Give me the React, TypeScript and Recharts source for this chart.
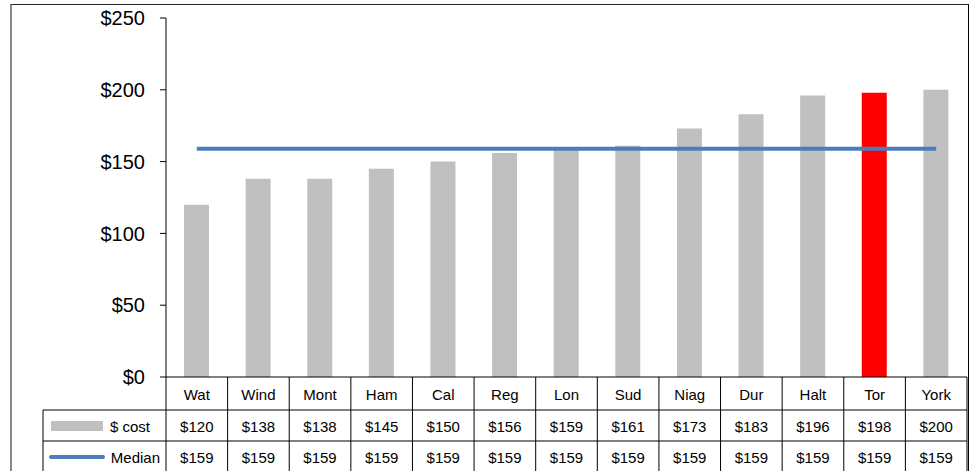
import { ComposedChart, Bar, Line, XAxis, YAxis, Cell } from 'recharts';

const categories = ['Wat', 'Wind', 'Mont', 'Ham', 'Cal', 'Reg', 'Lon', 'Sud', 'Niag', 'Dur', 'Halt', 'Tor', 'York'];
const costValues = [120, 138, 138, 145, 150, 156, 159, 161, 173, 183, 196, 198, 200];
const medianValues = [159, 159, 159, 159, 159, 159, 159, 159, 159, 159, 159, 159, 159];
const highlight = 'Tor';
const yTicks = [0, 50, 100, 150, 200, 250];

const data = categories.map((name, i) => ({ name, cost: costValues[i], median: medianValues[i] }));

const FONT = 'Arial, "Liberation Sans", sans-serif';
const BAR_GRAY = '#C0C0C0';
const MEDIAN_BLUE = '#4A7EBB';

function TableTick(props: any) {
  const { x, y, payload, width } = props;
  const band = (width ?? 801) / categories.length;
  const i = payload.index;
  const left = x - band / 2;
  const right = x + band / 2;
  const r1 = y + 33;
  const r2 = y + 64;
  const r3 = y + 94;
  return (
    <g>
      {i === 0 && (
        <g>
          <line x1={left} y1={y} x2={left} y2={r3} stroke="#000" />
          <line x1={left - 123} y1={r1} x2={left} y2={r1} stroke="#000" />
          <line x1={left - 123} y1={r2} x2={left} y2={r2} stroke="#000" />
          <line x1={left - 123} y1={r1} x2={left - 123} y2={r3} stroke="#000" />
          <rect x={left - 115} y={r1 + 11} width={52} height={10} fill={BAR_GRAY} />
          <text x={left - 16} y={r1 + 16} textAnchor="end" dominantBaseline="central" fontSize={15} fontFamily={FONT} fill="#000">
            $ cost
          </text>
          <line x1={left - 115} y1={r2 + 16} x2={left - 63} y2={r2 + 16} stroke={MEDIAN_BLUE} strokeWidth={4} strokeLinecap="round" />
          <text x={left - 6} y={r2 + 16} textAnchor="end" dominantBaseline="central" fontSize={15} fontFamily={FONT} fill="#000">
            Median
          </text>
        </g>
      )}
      <line x1={right} y1={y} x2={right} y2={r3} stroke="#000" />
      <line x1={left} y1={r1} x2={right} y2={r1} stroke="#000" />
      <line x1={left} y1={r2} x2={right} y2={r2} stroke="#000" />
      <text x={x} y={y + 17} textAnchor="middle" dominantBaseline="central" fontSize={15} fontFamily={FONT} fill="#000">
        {payload.value}
      </text>
      <text x={x} y={r1 + 16} textAnchor="middle" dominantBaseline="central" fontSize={15} fontFamily={FONT} fill="#000">
        ${costValues[i]}
      </text>
      <text x={x} y={r2 + 16} textAnchor="middle" dominantBaseline="central" fontSize={15} fontFamily={FONT} fill="#000">
        ${medianValues[i]}
      </text>
    </g>
  );
}

export default function App() {
  return (
    <div style={{ position: 'absolute', top: 0, left: 0, width: 969, height: 471, background: '#fff', overflow: 'hidden' }}>
      <div
        style={{
          position: 'absolute', top: 4, left: 10, width: 956, height: 480,
          borderTop: '1px solid #222', borderLeft: '2px solid #888', borderRight: '1px solid #000',
        }}
      />
      <div style={{ position: 'absolute', top: 0, left: 0 }}>
        <ComposedChart width={969} height={471} data={data} margin={{ top: 18, right: 2, left: 0, bottom: 0 }}>
          <XAxis
            dataKey="name"
            height={94}
            interval={0}
            tickSize={0}
            tickMargin={0}
            tickLine={false}
            axisLine={{ stroke: '#000' }}
            tick={<TableTick />}
          />
          <YAxis
            width={166}
            domain={[0, 250]}
            ticks={yTicks}
            tickFormatter={(v) => `$${v}`}
            tick={{ fill: '#000', fontSize: 20, fontFamily: FONT }}
            tickSize={6}
            tickMargin={15}
            axisLine={{ stroke: '#000' }}
            tickLine={{ stroke: '#000' }}
          />
          <Bar dataKey="cost" barSize={25} isAnimationActive={false}>
            {data.map((d) => (
              <Cell key={d.name} fill={d.name === highlight ? '#FF0000' : BAR_GRAY} />
            ))}
          </Bar>
          <Line dataKey="median" stroke={MEDIAN_BLUE} strokeWidth={4} dot={false} activeDot={false} isAnimationActive={false} />
        </ComposedChart>
      </div>
    </div>
  );
}
